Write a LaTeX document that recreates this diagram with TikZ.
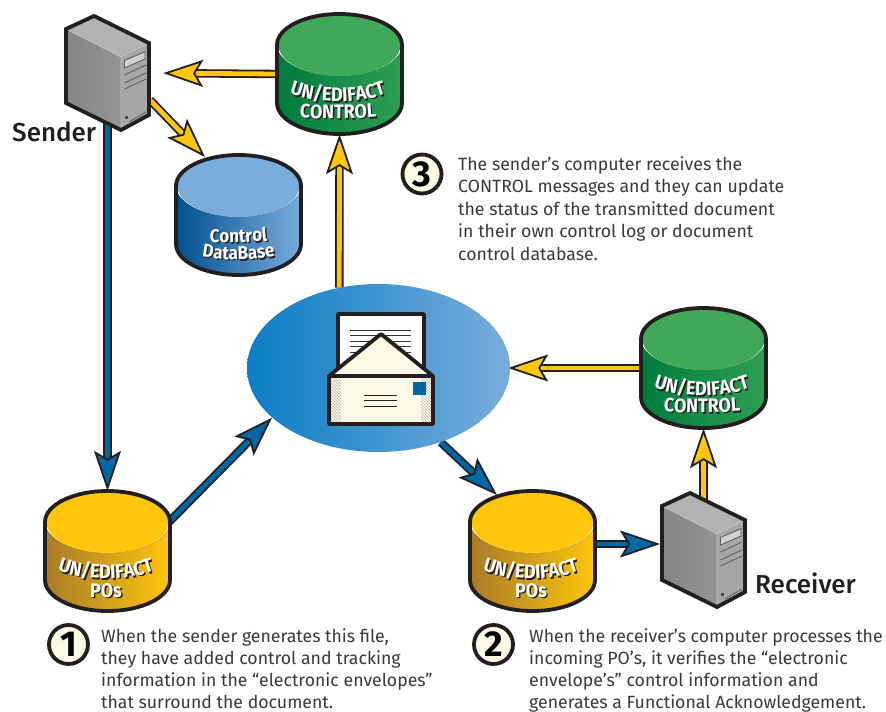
\documentclass[tikz,border=0pt]{standalone}
\usepackage{fontspec}
\setmainfont{Fira Sans}
\newfontfamily\namefont{Fira Sans Medium}
\newfontfamily\cylfont[FakeStretch=0.92]{Fira Sans}
\usepackage{xcolor}
\usetikzlibrary{shapes.geometric}
\usetikzlibrary{arrows.meta}
\usetikzlibrary{decorations.text}
\usetikzlibrary{patterns}
\usetikzlibrary{backgrounds}
\definecolor{inkc}{HTML}{231F20}
\definecolor{txtc}{HTML}{3A3839}
\definecolor{yelc}{HTML}{FFC60B}
\definecolor{yeld}{HTML}{A87B28}
\definecolor{grnc}{HTML}{41A85A}
\definecolor{grnd}{HTML}{007C3E}
\definecolor{grnm}{HTML}{2E9F52}
\definecolor{bluc}{HTML}{7AACDC}
\definecolor{blud}{HTML}{00508F}
\definecolor{arrb}{HTML}{0067A5}
\definecolor{mailc}{HTML}{0A7EC4}
\definecolor{mailm}{HTML}{2B8FD2}
\definecolor{papc}{HTML}{FAFAE6}

\newcommand{\dblabel}[3]{%
  \path[shift={(1.4,1.4)},decorate,decoration={text along path,text align=center,
    text={|\fontsize{#3}{#3}\cylfont\bfseries\color{inkc}|#2}}] #1;
  \path[decorate,decoration={text along path,text align=center,
    text={|\fontsize{#3}{#3}\cylfont\bfseries\color{white}|#2}}] #1;}

\newcommand{\dbcyl}[7]{%
  \node[cylbox] (#1) at (#2+62.5,#3+60) {};
  \begin{scope}[shift={(#2,#3)}]
    \fill[left color=#4,right color=#5] (0,31) -- (0,89) arc[x radius=62.5,y radius=31,start angle=180,end angle=0]
      -- (125,31) arc[x radius=62.5,y radius=31,start angle=0,end angle=180] -- cycle;
    \fill[#6] (62.5,31) ellipse[x radius=61,y radius=31];
    \draw[cyledge] (0,31) -- (0,89) arc[x radius=62.5,y radius=31,start angle=180,end angle=0]
      -- (125,31) arc[x radius=62.5,y radius=31,start angle=0,end angle=-180] -- cycle;
    #7
  \end{scope}}

\newcommand{\pcbox}[3]{%
  \node[pcsize] (#1) at (#2+107.5,#3+73) {};
  \begin{scope}[shift={(#2,#3)}]
    \fill[left color=black!48,right color=black!42] (66,29) -- (121,57) -- (121,130) -- (66,103) -- cycle;
    \fill[black!30] (66,29) -- (94,16) -- (149,43) -- (121,57) -- cycle;
    \fill[black!35] (121,57) -- (149,43) -- (149,115) -- (121,130) -- cycle;
    \draw[white!75!black,line width=0.8pt] (66,29) -- (121,57) -- (149,43) (121,57) -- (121,130);
    \draw[pcline,fill=black!18] (124.5,60.5) -- (145,51.7) -- (145,59) -- (124.5,68) -- cycle;
    \draw[pcline] (124.5,75) -- (146,65) (124.5,83) -- (146,73) (124.5,89) -- (146,79);
    \fill[black!70] (125,116) rectangle (128,119);
    \draw[pcline] (129,122) -- (146,112) (129,125) -- (146,115);
    \draw[cyledge,line join=miter] (94,16) -- (149,43) -- (149,115) -- (121,130) -- (66,103) -- (66,29) -- cycle;
  \end{scope}}

\tikzset{
  cylbox/.style={minimum width=125pt,minimum height=120pt,inner sep=0pt},
  pcsize/.style={minimum width=83pt,minimum height=114pt,inner sep=0pt},
  cyledge/.style={draw=inkc,line width=3.8pt},
  pcline/.style={draw=black!62,line width=0.9pt},
  fatarrow/.style={draw=inkc,line width=1.8pt,double=#1,double distance=4.8pt,
    -{Stealth[length=40pt,width=27pt,inset=8pt,fill=#1,color=inkc]}},
  numdisc/.style={circle,draw=inkc,fill=papc,line width=3.8pt,minimum size=39pt,inner sep=0pt,
    font=\fontsize{36}{36}\bfseries},
  blurb/.style={anchor=north west,inner sep=0pt,align=left,text=txtc,
    font=\fontsize{17.7}{22.5}\selectfont},
  blurbfoot/.style={blurb,font=\fontsize{17.7}{22}\selectfont},
  pcname/.style={inner sep=0pt,text=inkc,font=\fontsize{26}{26}\namefont}
}

\begin{document}
\begin{tikzpicture}[x=1pt,y=-1pt]
  \useasboundingbox (0,0) rectangle (886,712);

  % the five stores
  \dbcyl{ctlTop}{277}{14}{grnd}{grnm}{grnc}{%
    \dblabel{(1,75) .. controls (36,92) and (86,92) .. (121,75)}{UN/EDIFACT}{19.5}
    \dblabel{(1,101) .. controls (36,106) and (86,106) .. (121,101)}{CONTROL}{19.5}}
  \dbcyl{ctlBase}{176}{155}{blud}{bluc}{bluc}{%
    \dblabel{(0,84) .. controls (40,90) and (85,88) .. (125,82)}{Control}{18.5}
    \dblabel{(0,95) .. controls (40,108) and (85,108) .. (125,95)}{DataBase}{18.5}}
  \dbcyl{ctlRecv}{641}{308}{grnd}{grnm}{grnc}{%
    \dblabel{(1,75) .. controls (36,92) and (86,92) .. (121,75)}{UN/EDIFACT}{19.5}
    \dblabel{(1,101) .. controls (36,106) and (86,106) .. (121,101)}{CONTROL}{19.5}}
  \dbcyl{poSend}{45}{491}{yeld}{yelc}{yelc}{%
    \dblabel{(1,75) .. controls (36,92) and (86,92) .. (121,75)}{UN/EDIFACT}{19.5}
    \dblabel{(1,105) .. controls (41,107) and (81,107) .. (121,105)}{POs}{19.5}}
  \dbcyl{poRecv}{470}{491}{yeld}{yelc}{yelc}{%
    \dblabel{(1,75) .. controls (36,92) and (86,92) .. (121,75)}{UN/EDIFACT}{19.5}
    \dblabel{(1,105) .. controls (41,107) and (81,107) .. (121,105)}{POs}{19.5}}

  % the two machines
  \pcbox{sendPC}{0}{0}
  \pcbox{recvPC}{596}{477}

  % the envelope
  \node[ellipse,left color=mailc,middle color=mailm,right color=bluc,minimum width=263pt,minimum height=168pt,inner sep=0pt] (mail) at (378.5,368) {};
  \draw[cyledge,fill=white,line join=round] (338,376) -- (338,314) -- (424,314) -- (424,376);
  \draw[black!80,line width=1pt] (350,330) -- (411,330) (350,335.5) -- (411,335.5) (350,341) -- (411,341) (350,346.5) -- (411,346.5) (350,352) -- (411,352);
  \draw[cyledge,fill=papc,line join=round] (329,376) -- (381,334) -- (433,376) -- cycle;
  \fill[papc] (329,376) rectangle (433,424);
  \fill[pattern=north west lines,pattern color=black!30] (331,378) rectangle (341,422);
  \fill[pattern=north west lines,pattern color=black!30] (421,378) rectangle (431,422);
  \draw[cyledge,line join=round] (329,376) rectangle (433,424);
  \draw[inkc,line width=1pt] (329,376) -- (433,376);
  \fill[arrb] (413,382) rectangle (426,395);
  \draw[inkc,line width=1pt] (364,395) -- (397,395) (364,400.5) -- (397,400.5) (364,406) -- (397,406);

  \coordinate (baseIn) at (205,157);
  \coordinate (baseOut) at (150,100);
  \coordinate (poSendOut) at (168,523);
  \coordinate (poRecvIn) at (497,495);
  \coordinate (poRecvOut) at (596,544);
  \coordinate (recvIn) at (660,544);

  \begin{pgfonlayer}{background}
    \draw[fatarrow=arrb] (sendPC.center) -- (poSend.north);
    \draw[fatarrow=arrb] (poSendOut) -- (mail.205);
    \draw[fatarrow=arrb] (mail.310) -- (poRecvIn);
    \draw[fatarrow=arrb] (poRecvOut) -- (recvIn);
    \draw[fatarrow=yelc] (recvPC.center) -- (ctlRecv.south);
    \draw[fatarrow=yelc,shorten >=-2pt] (ctlRecv.west) -- (mail.east);
    \draw[fatarrow=yelc] (mail.116.2) -- (ctlTop.south);
    \draw[fatarrow=yelc,shorten >=14pt] (ctlTop.west) -- (sendPC.east);
    \draw[fatarrow=yelc] (baseOut) -- (baseIn);
  \end{pgfonlayer}

  \node[pcname,anchor=west] (sendName) at (12,132) {Sender};
  \node[pcname,anchor=west] (recvName) at (755,583) {Receiver};

  \node[numdisc] (stepA) at (68.5,644.5) {1};
  \node[numdisc] (stepB) at (493.5,644.5) {2};
  \node[numdisc] (stepC) at (422,174) {3};

  \node[blurbfoot] (textA) at (101,628) {When the sender generates this file,\\they have added control and tracking\\information in the “electronic envelopes”\\that surround the document.};
  \node[blurbfoot] (textB) at (529,628) {When the receiver’s computer processes the\\incoming PO’s, it verifies the “electronic\\envelope’s” control information and\\generates a Functional Acknowledgement.};
  \node[blurb] (textC) at (458,156) {The sender’s computer receives the\\CONTROL messages and they can update\\the status of the transmitted document\\in their own control log or document\\control database.};
\end{tikzpicture}
\end{document}
